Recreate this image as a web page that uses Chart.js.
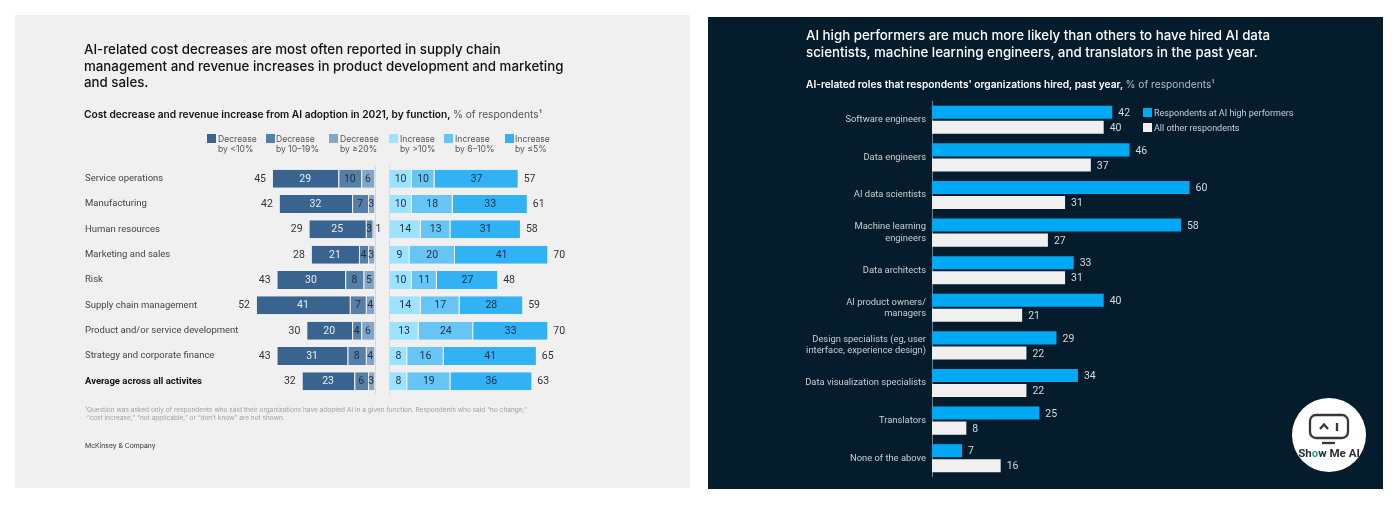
<!DOCTYPE html>
<html>
<head>
<meta charset="utf-8">
<script src="https://cdn.jsdelivr.net/npm/chart.js@4"></script>
<style>
html, body { margin: 0; padding: 0; background: #fff; width: 1400px; height: 506px; overflow: hidden; font-family: Inter, sans-serif; }
.panel { position: absolute; }
#leftPanel { left: 15px; top: 15px; width: 675px; height: 473px; background: #f0f0f0; }
#rightPanel { left: 708px; top: 17px; width: 675px; height: 472px; background: #051c2c; }
.t { position: absolute; white-space: nowrap; will-change: transform; }
.title { font-size: 13.3px; font-weight: 500; line-height: 16.5px; }
.sub { font-size: 10.2px; font-weight: 600; line-height: 14px; }
.sub span { font-weight: 400; }
.leg { font-size: 8.6px; line-height: 10.4px; color: #555; }
.sw { position: absolute; width: 9px; height: 9px; }
canvas { position: absolute; }
</style>
</head>
<body>
<div class="panel" id="leftPanel"></div>
<div class="panel" id="rightPanel"></div>

<div class="t title" style="left:84px;top:41px;color:#111">AI-related cost decreases are most often reported in supply chain<br>management and revenue increases in product development and marketing<br>and sales.</div>
<div class="t sub" style="left:84px;top:107px;color:#111">Cost decrease and revenue increase from AI adoption in 2021, by function, <span style="color:#555">% of respondents¹</span></div>

<div id="legendLeft"></div>

<div class="t" style="left:85px;top:406px;font-size:6.54px;line-height:8.2px;color:#a0a0a0">¹Question was asked only of respondents who said their organizations have adopted AI in a given function. Respondents who said “no change,”<br>&nbsp;“cost increase,” “not applicable,” or “don’t know” are not shown.</div>
<div class="t" style="left:85px;top:441px;font-size:6.8px;line-height:10px;color:#333">McKinsey &amp; Company</div>

<div class="t title" style="left:806px;top:27px;color:#fff">AI high performers are much more likely than others to have hired AI data<br>scientists, machine learning engineers, and translators in the past year.</div>
<div class="t sub" style="left:806px;top:77px;color:#fff">AI-related roles that respondents' organizations hired, past year, <span style="color:#b4bcc3">% of respondents¹</span></div>

<div class="sw" style="left:1143px;top:108px;background:#00a9f4"></div>
<div class="t" style="left:1154px;top:108px;font-family:Roboto;font-size:9px;line-height:10px;color:#c8ced3">Respondents at AI high performers</div>
<div class="sw" style="left:1143px;top:123px;background:#f0f0f0"></div>
<div class="t" style="left:1154px;top:123px;font-family:Roboto;font-size:9px;line-height:10px;color:#c8ced3">All other respondents</div>

<canvas id="decreaseChart" width="300" height="228" style="left:85px;top:166px"></canvas>
<canvas id="increaseChart" width="190" height="228" style="left:385px;top:166px"></canvas>
<canvas id="rolesChart" width="500" height="376" style="left:790px;top:101px"></canvas>

<svg width="80" height="80" viewBox="0 0 80 80" style="position:absolute;left:1289px;top:395px">
  <circle cx="40" cy="40" r="37" fill="#fff"/>
  <rect x="21" y="20" width="38" height="23" rx="6" fill="none" stroke="#33363a" stroke-width="2.3"/>
  <path d="M31 34 L35 29.5 L39 34" fill="none" stroke="#33363a" stroke-width="2.3"/>
  <path d="M48 28 V36" fill="none" stroke="#33363a" stroke-width="2.3"/>
  <path d="M33 48 H46" fill="none" stroke="#33363a" stroke-width="2.3"/>
  <text x="40" y="62" text-anchor="middle" font-family="Roboto, sans-serif" font-weight="700" font-size="11.5" fill="#2b2e32">Sh<tspan fill="#1fa89a">o</tspan>w Me AI</text>
</svg>

<script>
// Left chart data
const functions = ['Service operations', 'Manufacturing', 'Human resources', 'Marketing and sales', 'Risk',
    'Supply chain management', 'Product and/or service development', 'Strategy and corporate finance', 'Average across all activites'];
const decreaseOver20 = [6, 3, 1, 3, 5, 4, 6, 4, 3];
const decrease10to19 = [10, 7, 3, 4, 8, 7, 4, 8, 6];
const decreaseUnder10 = [29, 32, 25, 21, 30, 41, 20, 31, 23];
const decreaseTotals = [45, 42, 29, 28, 43, 52, 30, 43, 32];
const increaseOver10 = [10, 10, 14, 9, 10, 14, 13, 8, 8];
const increase6to10 = [10, 18, 13, 20, 11, 17, 24, 16, 19];
const increaseUnder5 = [37, 33, 31, 41, 27, 28, 33, 41, 36];
const increaseTotals = [57, 61, 58, 70, 48, 59, 70, 65, 63];

// Right chart data
const roles = ['Software engineers', 'Data engineers', 'AI data scientists', ['Machine learning', 'engineers'], 'Data architects',
    ['AI product owners/', 'managers'], ['Design specialists (eg, user', 'interface, experience design)'],
    'Data visualization specialists', 'Translators', 'None of the above'];
const highPerformers = [42, 46, 60, 58, 33, 40, 29, 34, 25, 7];
const otherRespondents = [40, 37, 31, 27, 31, 21, 22, 22, 8, 16];

const legendItems = [
    { x: 207, tx: 218, c: '#38648f', a: 'Decrease', b: 'by <10%' },
    { x: 265.5, tx: 276, c: '#567fa8', a: 'Decrease', b: 'by 10–19%' },
    { x: 329, tx: 339.5, c: '#83a6c8', a: 'Decrease', b: 'by ≥20%' },
    { x: 389, tx: 400, c: '#9be3ff', a: 'Increase', b: 'by >10%' },
    { x: 444, tx: 454.5, c: '#66c5f5', a: 'Increase', b: 'by 6–10%' },
    { x: 504.5, tx: 515, c: '#30b2f5', a: 'Increase', b: 'by ≤5%' }
];

const legendEl = document.getElementById('legendLeft');
legendItems.forEach(item => {
    legendEl.innerHTML += `<div class="sw" style="left:${item.x}px;top:134px;background:${item.c}"></div>
        <div class="t leg" style="left:${item.tx}px;top:134px">${item.a}<br>${item.b.replace('<', '&lt;').replace('>', '&gt;')}</div>`;
});

// Numbers inside the stacked segments
const segmentLabels = {
    id: 'segmentLabels',
    afterDatasetsDraw(chart) {
        const ctx = chart.ctx;
        ctx.save();
        ctx.font = '10.5px Roboto';
        ctx.textAlign = 'center';
        ctx.textBaseline = 'middle';
        chart.data.datasets.forEach((ds, i) => {
            chart.getDatasetMeta(i).data.forEach((bar, j) => {
                const value = ds.data[j];
                ctx.fillStyle = ds.labelColor;
                if (value < 2) {
                    ctx.fillStyle = '#333';
                    ctx.fillText(value, bar.base + 4, bar.y + 0.5);
                } else {
                    ctx.fillText(value, (bar.x + bar.base) / 2, bar.y + 0.5);
                }
            });
        });
        ctx.restore();
    }
};

// Totals past the end of each stack
const totalLabels = {
    id: 'totalLabels',
    afterDraw(chart, args, opts) {
        const ctx = chart.ctx;
        const x = chart.scales.x;
        ctx.save();
        ctx.font = '10.5px Roboto';
        ctx.fillStyle = '#333';
        ctx.textBaseline = 'middle';
        ctx.textAlign = opts.side === 'left' ? 'right' : 'left';
        opts.totals.forEach((total, j) => {
            const y = chart.scales.y.getPixelForValue(j);
            const px = x.getPixelForValue(total);
            ctx.fillText(total, opts.side === 'left' ? px - 6 : px + 5, y + 0.5);
        });
        ctx.restore();
    }
};

// Value after each bar on the dark chart
const barValueLabels = {
    id: 'barValueLabels',
    afterDatasetsDraw(chart) {
        const ctx = chart.ctx;
        ctx.save();
        ctx.font = '10.5px Roboto';
        ctx.fillStyle = '#d5dade';
        ctx.textBaseline = 'middle';
        ctx.textAlign = 'left';
        chart.data.datasets.forEach((ds, i) => {
            chart.getDatasetMeta(i).data.forEach((bar, j) => {
                ctx.fillText(ds.data[j], bar.x + 6, bar.y + 1);
            });
        });
        ctx.restore();
    }
};

function stackedOptions(maxValue, reverse, padding, axisWidth, side, totals) {
    return {
        indexAxis: 'y',
        responsive: false,
        animation: false,
        layout: { padding: padding },
        plugins: {
            legend: { display: false },
            tooltip: { enabled: false },
            totalLabels: { side: side, totals: totals }
        },
        scales: {
            x: {
                stacked: true,
                reverse: reverse,
                min: 0,
                max: maxValue,
                border: { display: false },
                ticks: { display: false },
                grid: {
                    drawTicks: false,
                    color: c => c.tick.value === 0 ? '#d9d9d9' : 'transparent'
                }
            },
            y: {
                stacked: true,
                border: { display: false },
                grid: { display: false, drawTicks: false },
                afterFit: s => {
                    s.width = axisWidth;
                    s.paddingTop = 0;
                    s.paddingBottom = 0;
                },
                ticks: {
                    display: axisWidth > 0,
                    crossAlign: 'far',
                    padding: 0,
                    color: c => c.index === 8 ? '#111' : '#444',
                    font: c => ({ family: 'Roboto', size: 9.5, weight: c.index === 8 ? '700' : '400' })
                }
            }
        }
    };
}

// one pixel separator between segments, no outline top or bottom
const barStyle = { borderColor: '#f0f0f0', borderSkipped: false, barPercentage: 0.71, categoryPercentage: 1 };

new Chart(document.getElementById('decreaseChart'), {
    type: 'bar',
    data: {
        labels: functions,
        datasets: [
            { data: decreaseOver20, backgroundColor: '#83a6c8', labelColor: '#1b2f45', borderWidth: { left: 1 }, ...barStyle },
            { data: decrease10to19, backgroundColor: '#567fa8', labelColor: '#1b2f45', borderWidth: { left: 1 }, ...barStyle },
            { data: decreaseUnder10, backgroundColor: '#38648f', labelColor: '#e8eef4', borderWidth: { left: 1 }, ...barStyle }
        ]
    },
    options: stackedOptions(54.6, true, { right: 10 }, 165, 'left', decreaseTotals),
    plugins: [segmentLabels, totalLabels]
});

new Chart(document.getElementById('increaseChart'), {
    type: 'bar',
    data: {
        labels: functions,
        datasets: [
            { data: increaseOver10, backgroundColor: '#9be3ff', labelColor: '#1b2f45', borderWidth: { right: 1 }, ...barStyle },
            { data: increase6to10, backgroundColor: '#66c5f5', labelColor: '#1b2f45', borderWidth: { right: 1 }, ...barStyle },
            { data: increaseUnder5, backgroundColor: '#30b2f5', labelColor: '#1b2f45', borderWidth: { right: 1 }, ...barStyle }
        ]
    },
    options: stackedOptions(81.76, false, { left: 4 }, 0, 'right', increaseTotals),
    plugins: [segmentLabels, totalLabels]
});

new Chart(document.getElementById('rolesChart'), {
    type: 'bar',
    data: {
        labels: roles,
        datasets: [
            { data: highPerformers, backgroundColor: '#00a9f4', categoryPercentage: 0.8, barPercentage: 0.867 },
            { data: otherRespondents, backgroundColor: '#f0f0f0', categoryPercentage: 0.8, barPercentage: 0.867 }
        ]
    },
    options: {
        indexAxis: 'y',
        responsive: false,
        animation: false,
        plugins: { legend: { display: false }, tooltip: { enabled: false } },
        scales: {
            x: {
                display: false,
                min: 0,
                max: 83.4
            },
            y: {
                afterFit: s => {
                    s.width = 142;
                    s.paddingTop = 0;
                    s.paddingBottom = 0;
                },
                border: { color: '#6f7f8b', width: 1 },
                grid: { display: false, drawTicks: false },
                ticks: {
                    padding: 6,
                    color: '#c8ced3',
                    font: { family: 'Roboto', size: 9.4 }
                }
            }
        }
    },
    plugins: [barValueLabels]
});
</script>
</body>
</html>
